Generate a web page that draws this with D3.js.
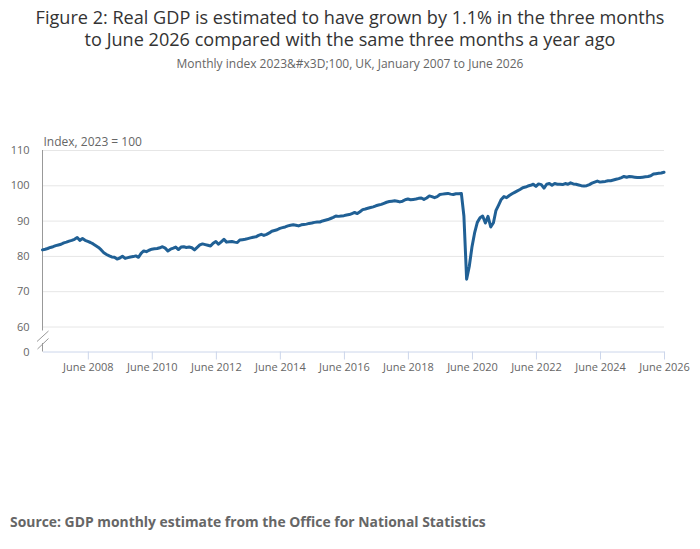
<!DOCTYPE html>
<html><head><meta charset="utf-8">
<script src="https://cdn.jsdelivr.net/npm/d3@7"></script>
<style>
body{margin:0;background:#fff;}
svg{display:block;font-family:"Open Sans",sans-serif;}
</style></head>
<body><svg id="c" width="700" height="549"></svg>
<script>
const titleLines = ["Figure 2: Real GDP is estimated to have grown by 1.1% in the three months",
                    "to June 2026 compared with the same three months a year ago"];
const subtitle = "Monthly index 2023&#x3D;100, UK, January 2007 to June 2026";
const yAxisTitle = "Index, 2023 = 100";
const source = "Source: GDP monthly estimate from the Office for National Statistics";
const startDate = "2007-01";
const yTicks = [0, 60, 70, 80, 90, 100, 110];
const xTickYears = [2008, 2010, 2012, 2014, 2016, 2018, 2020, 2022, 2024, 2026];
// Monthly GDP index, Jan 2007 to Jun 2026
const gdp2007 = [81.7, 81.9, 82.1, 82.4, 82.6, 82.9, 83.1, 83.3, 83.7, 83.9, 84.2, 84.4];
const gdp2008 = [84.7, 85.2, 84.4, 84.9, 84.4, 84.1, 83.8, 83.4, 82.9, 82.4, 81.7, 80.9];
const gdp2009 = [80.4, 80.0, 79.7, 79.6, 79.1, 79.4, 79.9, 79.3, 79.5, 79.7, 79.8, 80.0];
const gdp2010 = [79.6, 80.8, 81.4, 81.2, 81.6, 81.9, 82.0, 82.1, 82.3, 82.6, 82.2, 81.4];
const gdp2011 = [81.9, 82.2, 82.5, 81.8, 82.5, 82.6, 82.4, 82.5, 82.3, 81.7, 82.4, 83.1];
const gdp2012 = [83.4, 83.2, 83.0, 82.8, 83.6, 84.1, 83.3, 84.0, 84.7, 83.9, 84.0, 84.1];
const gdp2013 = [83.9, 83.8, 84.5, 84.6, 84.7, 84.9, 85.1, 85.3, 85.4, 85.8, 86.1, 85.8];
const gdp2014 = [86.1, 86.5, 87.0, 87.2, 87.4, 87.8, 88.0, 88.2, 88.5, 88.7, 88.8, 88.7];
const gdp2015 = [88.5, 88.8, 88.9, 89.0, 89.2, 89.3, 89.5, 89.6, 89.6, 89.9, 90.1, 90.3];
const gdp2016 = [90.6, 90.9, 91.3, 91.2, 91.3, 91.4, 91.6, 91.7, 92.0, 92.3, 92.0, 92.5];
const gdp2017 = [93.1, 93.3, 93.5, 93.7, 93.9, 94.2, 94.4, 94.6, 94.9, 95.2, 95.4, 95.5];
const gdp2018 = [95.6, 95.5, 95.3, 95.5, 95.9, 96.1, 95.9, 96.0, 96.1, 96.3, 96.4, 96.0];
const gdp2019 = [96.4, 97.0, 96.8, 96.5, 96.8, 97.4, 97.5, 97.6, 97.7, 97.5, 97.4, 97.6];
const gdp2020 = [97.6, 97.7, 91.3, 73.4, 77.0, 82.5, 86.5, 89.5, 90.8, 91.3, 89.3, 91.2];
const gdp2021 = [88.2, 89.4, 92.8, 94.4, 96.0, 96.8, 96.5, 97.1, 97.6, 98.0, 98.4, 98.8];
const gdp2022 = [99.3, 99.5, 99.8, 100.0, 100.3, 99.7, 100.4, 100.2, 99.2, 100.3, 100.5, 100.0];
const gdp2023 = [100.5, 100.3, 100.3, 100.2, 100.5, 100.3, 100.7, 100.4, 100.3, 100.1, 99.9, 99.8];
const gdp2024 = [99.9, 100.2, 100.6, 100.9, 101.2, 100.9, 101.0, 101.1, 101.3, 101.3, 101.5, 101.7];
const gdp2025 = [101.9, 102.2, 102.5, 102.3, 102.5, 102.4, 102.3, 102.2, 102.2, 102.3, 102.4, 102.5];
const gdp2026 = [102.7, 103.2, 103.3, 103.4, 103.5, 103.7];

const values = [].concat(gdp2007, gdp2008, gdp2009, gdp2010, gdp2011, gdp2012, gdp2013,
  gdp2014, gdp2015, gdp2016, gdp2017, gdp2018, gdp2019, gdp2020, gdp2021, gdp2022,
  gdp2023, gdp2024, gdp2025, gdp2026);
const parse = d3.timeParse("%Y-%m");
const t0 = parse(startDate);
const data = values.map((v, i) => ({date: d3.timeMonth.offset(t0, i), value: v}));

const svg = d3.select("#c");
const L = 42.5, R = 664, T = 150, B = 351.5;

const x = d3.scaleTime().domain([data[0].date, data[data.length - 1].date]).range([L, R]);
const y = d3.scaleLinear().domain([0, 60, 110]).range([B, 326.5, T]);

// Title
const title = svg.append("text").attr("text-anchor", "middle").attr("fill", "#333")
  .style("font-size", "18.1px");
titleLines.forEach((t, i) => title.append("tspan").attr("x", 350).attr("y", 24 + i * 22).text(t));
svg.append("text").attr("x", 350).attr("y", 68).attr("text-anchor", "middle")
  .attr("fill", "#666").style("font-size", "12px").text(subtitle);

// grid
const gridVals = yTicks.filter(v => v > 0);
svg.append("g").selectAll("line").data(gridVals).join("line")
  .attr("x1", L).attr("x2", R).attr("y1", d => y(d) + 0.5).attr("y2", d => y(d) + 0.5)
  .attr("stroke", "#e6e6e6").attr("stroke-width", 1);

// x axis
const xTicks = xTickYears.map(yr => new Date(yr, 5, 1));
const xAxis = d3.axisBottom(x).tickValues(xTicks).tickFormat(d3.timeFormat("June %Y"))
  .tickSize(8).tickSizeOuter(0).tickPadding(4);
const gx = svg.append("g").attr("transform", `translate(0,${B})`).call(xAxis);
gx.select(".domain").attr("stroke", "#ccd6eb");
gx.selectAll(".tick line").attr("stroke", "#ccd6eb");
gx.selectAll(".tick text").attr("fill", "#666").style("font-size", "11px")
  .style("font-family", "'Open Sans',sans-serif");

// y axis labels
const yAxis = d3.axisLeft(y).tickValues(yTicks).tickSize(0).tickPadding(13);
const gy = svg.append("g").attr("transform", `translate(${L},0)`).call(yAxis);
gy.select(".domain").remove();
gy.selectAll(".tick text").attr("fill", "#666").style("font-size", "11px")
  .style("font-family", "'Open Sans',sans-serif");

// y axis line with break
const axisG = svg.append("g").attr("stroke", "#999").attr("stroke-width", 1).attr("fill", "none");
axisG.append("line").attr("x1", L).attr("x2", L).attr("y1", T).attr("y2", 330.5);
axisG.append("line").attr("x1", L).attr("x2", L).attr("y1", 343).attr("y2", B);
axisG.append("line").attr("x1", 48.5).attr("y1", 331).attr("x2", 37).attr("y2", 341.5);
axisG.append("line").attr("x1", 48.5).attr("y1", 338.5).attr("x2", 37.5).attr("y2", 349);

// axis title
svg.append("text").attr("x", L + 1).attr("y", 146).attr("fill", "#666")
  .style("font-size", "12px").text(yAxisTitle);

// line
const line = d3.line().x(d => x(d.date)).y(d => y(d.value));
svg.append("path").datum(data).attr("d", line).attr("fill", "none")
  .attr("stroke", "#206095").attr("stroke-width", 3).attr("stroke-linejoin", "round")
  .attr("stroke-linecap", "round");

// source
svg.append("text").attr("x", 10).attr("y", 527).attr("fill", "#666")
  .style("font-size", "13.9px").style("font-weight", "bold").text(source);
</script></body></html>
